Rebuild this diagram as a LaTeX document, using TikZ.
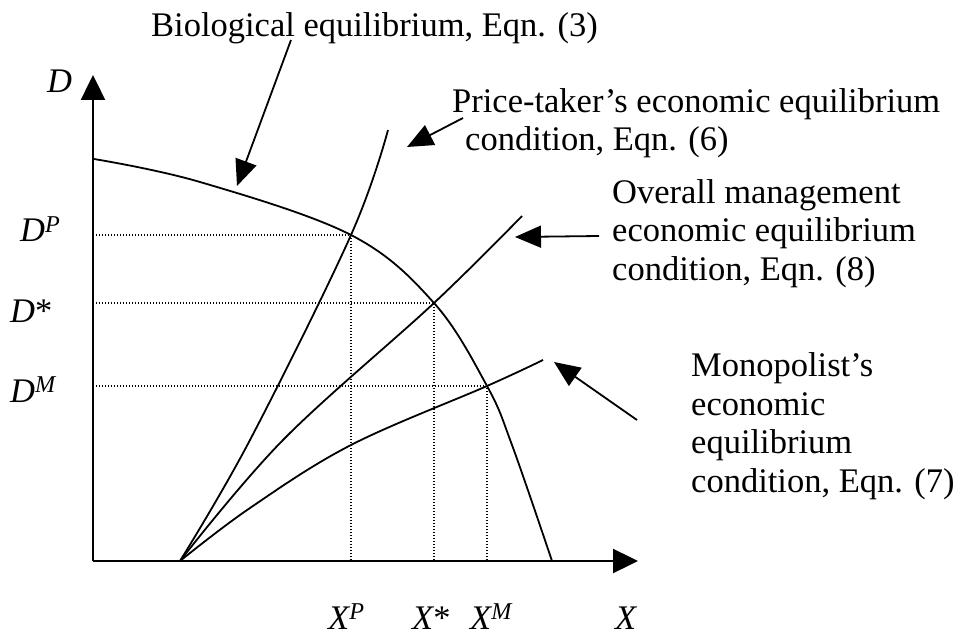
\documentclass[tikz,border=0pt]{standalone}
\usepackage{fontspec}
\setmainfont{Liberation Serif}
\usetikzlibrary{arrows.meta}

\tikzset{
  axis/.style={line width=2.4pt,-{Triangle[length=25pt,width=24pt]}},
  curve/.style={line width=1.8pt},
  guide/.style={line width=1.3pt,dash pattern=on 1.3pt off 1.7pt},
  pointer/.style={line width=1.8pt,-{Triangle[length=26pt,width=22pt]}},
  lbl/.style={inner sep=0pt,anchor=base west,align=left,font=\fontsize{34.5}{38.5}\selectfont},
}

\begin{document}
\begin{tikzpicture}[x=1pt,y=-1pt]
\useasboundingbox (0,0) rectangle (956,639);
% axes
\coordinate (O) at (93,561);
\draw[axis] (O) -- (638,561);
\draw[axis] (O) -- (93,75);
\node[lbl] (dlab) at (47,93) {\itshape D};
\node[lbl] (xlab) at (615,629) {\itshape X};
% equilibrium points
\coordinate (eqP) at (351,235);
\coordinate (eqS) at (434,303);
\coordinate (eqM) at (487,386);
\draw[guide] (eqP -| O) -- (eqP) -- (eqP |- O);
\draw[guide] (eqS -| O) -- (eqS) -- (eqS |- O);
\draw[guide] (eqM -| O) -- (eqM) -- (eqM |- O);
\node[lbl] (dp) at (20,242) {\itshape D\textsuperscript{P}};
\node[lbl] (ds) at (10,322) {\itshape D\upshape*};
\node[lbl] (dm) at (10,402) {\itshape D\textsuperscript{M}};
\node[lbl] (xp) at (328,629) {\itshape X\textsuperscript{P}};
\node[lbl] (xs) at (412,629) {\itshape X\upshape*};
\node[lbl] (xm) at (470,629) {\itshape X\textsuperscript{M}};
% curves
\draw[curve] plot[smooth,tension=0.6] coordinates {(94,159) (200,182) (eqP) (eqS) (eqM) (512,445) (552,561)};
\draw[curve] plot[smooth,tension=0.6] coordinates {(180,561) (250,440) (eqP) (388,130)};
\draw[curve] plot[smooth,tension=0.6] coordinates {(180,561) (283,440) (eqS) (522,216)};
\draw[curve] plot[smooth,tension=0.6] coordinates {(180,561) (250,508) (351,445) (eqM) (543,360)};
% labels and pointers (base = last line)
\node[lbl] (bio) at (151,37) {Biological equilibrium, Eqn. (3)};
\node[lbl] (price) at (452,151) {Price-taker's economic equilibrium\\\hspace*{13pt}condition, Eqn. (6)};
\node[lbl] (overall) at (612,280) {Overall management\\economic equilibrium\\condition, Eqn. (8)};
\node[lbl] (mono) at (691,492) {Monopolist's\\economic\\equilibrium\\condition, Eqn. (7)};
\coordinate (bioT) at (291,40);
\coordinate (bioH) at (237,186);
\coordinate (priceT) at (463,118);
\coordinate (priceH) at (407,147);
\coordinate (overallT) at (599,236);
\coordinate (overallH) at (515,237);
\coordinate (monoT) at (637,420);
\coordinate (monoH) at (554,362);
\draw[pointer] (bioT) -- (bioH);
\draw[pointer] (priceT) -- (priceH);
\draw[pointer] (overallT) -- (overallH);
\draw[pointer] (monoT) -- (monoH);
\end{tikzpicture}
\end{document}
